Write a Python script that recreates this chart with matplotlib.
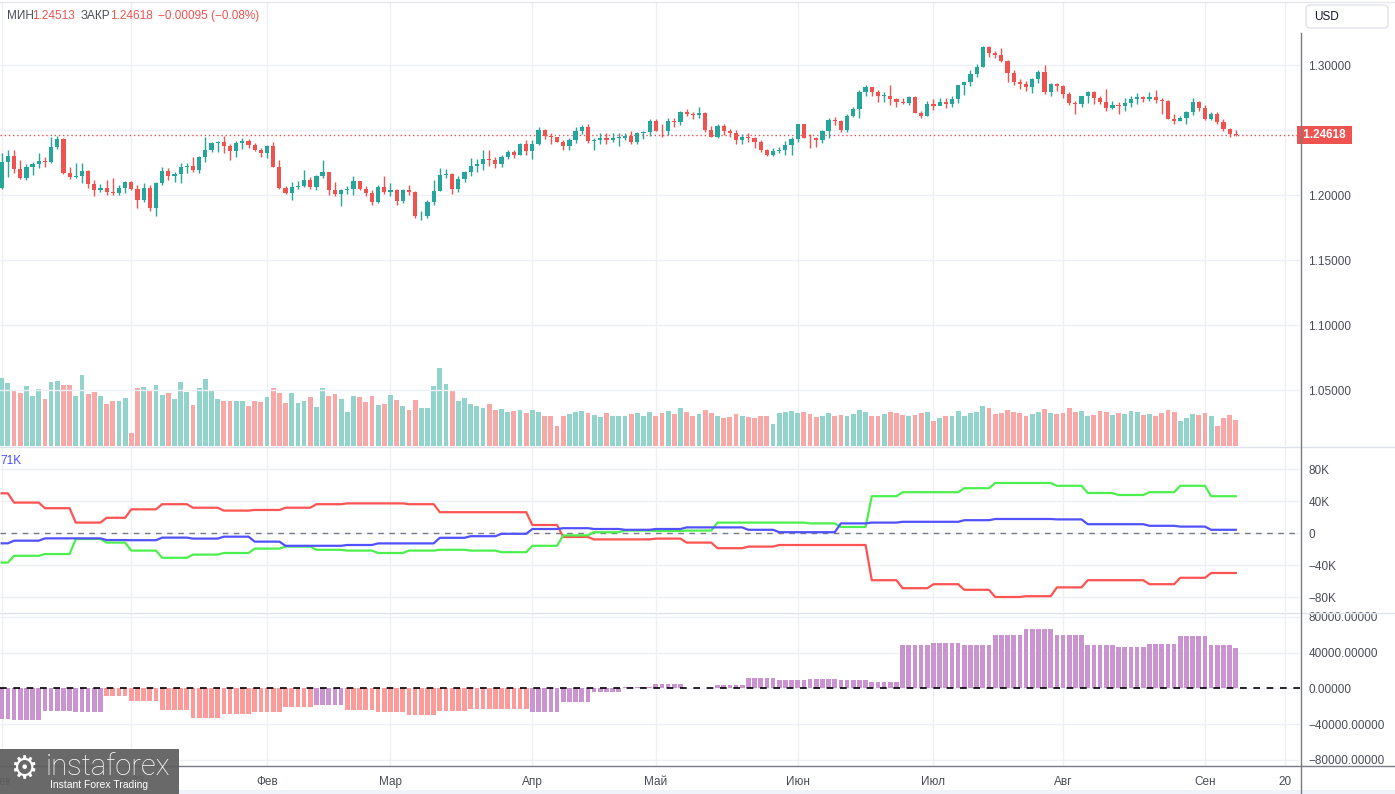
import numpy as np
import matplotlib
matplotlib.use('Agg')
import matplotlib.pyplot as plt
from matplotlib.patches import FancyBboxPatch, Rectangle
from matplotlib.lines import Line2D
import matplotlib.transforms as mtransforms

plt.rcParams['font.family'] = ['Liberation Sans', 'DejaVu Sans']

W, H = 1395, 794

# daily GBP/USD candles, Dec 1 2022 .. Sep 8 2023 (open = previous close)
open0 = 1.2057
closes = [
    1.2256, 1.2300, 1.2197, 1.2133, 1.2213, 1.2238, 1.2262, 1.2257, 1.2367, 1.2431,
    1.2172, 1.2140, 1.2146, 1.2185, 1.2082, 1.2038, 1.2056, 1.2026, 1.2018, 1.2054,
    1.2103, 1.2044, 1.1962, 1.2056, 1.1898, 1.2095, 1.2185, 1.2149, 1.2159, 1.2218,
    1.2223, 1.2192, 1.2295, 1.2346, 1.2403, 1.2405, 1.2380, 1.2341, 1.2403, 1.2418,
    1.2385, 1.2346, 1.2321, 1.2377, 1.2218, 1.2051, 1.2018, 1.2064, 1.2069, 1.2115,
    1.2060, 1.2145, 1.2180, 1.2035, 1.2010, 1.2035, 1.2045, 1.2105, 1.2050, 1.2015,
    1.1945, 1.2065, 1.2020, 1.2035, 1.1955, 1.2040, 1.2020, 1.1835, 1.1840, 1.1945,
    1.2030, 1.2155, 1.2165, 1.2050, 1.2120, 1.2175, 1.2225, 1.2235, 1.2275, 1.2270,
    1.2235, 1.2290, 1.2330, 1.2310, 1.2390, 1.2335, 1.2390, 1.2500, 1.2455, 1.2445,
    1.2410, 1.2380, 1.2420, 1.2490, 1.2525, 1.2415, 1.2420, 1.2435, 1.2420, 1.2440,
    1.2440, 1.2455, 1.2410, 1.2475, 1.2485, 1.2570, 1.2495, 1.2490, 1.2570, 1.2565,
    1.2635, 1.2625, 1.2615, 1.2630, 1.2500, 1.2450, 1.2530, 1.2490, 1.2475, 1.2420,
    1.2445, 1.2440, 1.2410, 1.2345, 1.2310, 1.2340, 1.2345, 1.2385, 1.2430, 1.2545,
    1.2440, 1.2435, 1.2425, 1.2490, 1.2580, 1.2570, 1.2500, 1.2608, 1.2665, 1.2795,
    1.2830, 1.2792, 1.2762, 1.2765, 1.2742, 1.2716, 1.2710, 1.2752, 1.2632, 1.2606,
    1.2697, 1.2684, 1.2714, 1.2702, 1.2741, 1.2843, 1.2868, 1.2933, 1.2988, 1.3140,
    1.3096, 1.3074, 1.3034, 1.2940, 1.2870, 1.2853, 1.2827, 1.2894, 1.2945, 1.2793,
    1.2855, 1.2837, 1.2780, 1.2709, 1.2700, 1.2758, 1.2791, 1.2750, 1.2716, 1.2670,
    1.2696, 1.2684, 1.2706, 1.2735, 1.2753, 1.2740, 1.2752, 1.2730, 1.2720, 1.2588,
    1.2568, 1.2596, 1.2637, 1.2712, 1.2670, 1.2588, 1.2625, 1.2563, 1.2504, 1.2472,
    1.2462]
highs = [
    1.2321, 1.2345, 1.2346, 1.2269, 1.2236, 1.2256, 1.2321, 1.2295, 1.2449, 1.2457,
    1.2436, 1.2218, 1.2244, 1.2244, 1.2192, 1.2115, 1.2082, 1.2115, 1.2128, 1.2077,
    1.2108, 1.2108, 1.2077, 1.2090, 1.2077, 1.2103, 1.2218, 1.2205, 1.2180, 1.2249,
    1.2249, 1.2290, 1.2300, 1.2444, 1.2410, 1.2415, 1.2454, 1.2392, 1.2415, 1.2436,
    1.2428, 1.2403, 1.2360, 1.2385, 1.2410, 1.2269, 1.2070, 1.2103, 1.2110, 1.2190,
    1.2140, 1.2155, 1.2270, 1.2180, 1.2100, 1.2050, 1.2070, 1.2145, 1.2110, 1.2070,
    1.2040, 1.2075, 1.2145, 1.2090, 1.2050, 1.2050, 1.2075, 1.2030, 1.1880, 1.1960,
    1.2115, 1.2205, 1.2200, 1.2170, 1.2145, 1.2185, 1.2285, 1.2280, 1.2345, 1.2345,
    1.2290, 1.2305, 1.2345, 1.2345, 1.2400, 1.2425, 1.2420, 1.2525, 1.2510, 1.2480,
    1.2445, 1.2420, 1.2440, 1.2525, 1.2535, 1.2545, 1.2440, 1.2475, 1.2475, 1.2475,
    1.2475, 1.2475, 1.2495, 1.2485, 1.2495, 1.2585, 1.2585, 1.2545, 1.2590, 1.2595,
    1.2645, 1.2665, 1.2640, 1.2680, 1.2640, 1.2530, 1.2545, 1.2545, 1.2505, 1.2500,
    1.2470, 1.2475, 1.2450, 1.2420, 1.2355, 1.2360, 1.2370, 1.2415, 1.2445, 1.2550,
    1.2545, 1.2470, 1.2445, 1.2500, 1.2590, 1.2600, 1.2580, 1.2620, 1.2680, 1.2810,
    1.2850, 1.2830, 1.2805, 1.2790, 1.2846, 1.2750, 1.2745, 1.2765, 1.2760, 1.2650,
    1.2720, 1.2735, 1.2745, 1.2750, 1.2760, 1.2850, 1.2870, 1.2960, 1.3010, 1.3146,
    1.3146, 1.3110, 1.3128, 1.3040, 1.2960, 1.2890, 1.2875, 1.2900, 1.2965, 1.2997,
    1.2865, 1.2865, 1.2850, 1.2790, 1.2725, 1.2765, 1.2800, 1.2800, 1.2765, 1.2818,
    1.2720, 1.2715, 1.2745, 1.2760, 1.2785, 1.2765, 1.2790, 1.2808, 1.2745, 1.2730,
    1.2625, 1.2610, 1.2650, 1.2745, 1.2725, 1.2690, 1.2640, 1.2640, 1.2585, 1.2515,
    1.2500]
lows = [
    1.2050, 1.2141, 1.2167, 1.2121, 1.2115, 1.2154, 1.2210, 1.2218, 1.2250, 1.2351,
    1.2162, 1.2123, 1.2128, 1.2090, 1.2057, 1.1995, 1.2021, 1.2000, 1.2000, 1.2000,
    1.2013, 1.2038, 1.1898, 1.1949, 1.1880, 1.1841, 1.2077, 1.2115, 1.2103, 1.2095,
    1.2167, 1.2180, 1.2172, 1.2256, 1.2333, 1.2333, 1.2321, 1.2269, 1.2290, 1.2351,
    1.2360, 1.2340, 1.2290, 1.2282, 1.2213, 1.2044, 1.2006, 1.1962, 1.2044, 1.2060,
    1.2050, 1.2040, 1.2130, 1.2000, 1.1990, 1.1915, 1.2010, 1.2000, 1.2040, 1.1990,
    1.1925, 1.1935, 1.2010, 1.1990, 1.1920, 1.1940, 1.2000, 1.1820, 1.1805, 1.1825,
    1.1925, 1.2030, 1.2130, 1.2010, 1.2025, 1.2100, 1.2150, 1.2180, 1.2190, 1.2225,
    1.2205, 1.2215, 1.2280, 1.2285, 1.2305, 1.2310, 1.2275, 1.2385, 1.2430, 1.2390,
    1.2405, 1.2345, 1.2350, 1.2400, 1.2470, 1.2400, 1.2345, 1.2390, 1.2390, 1.2410,
    1.2375, 1.2420, 1.2390, 1.2395, 1.2430, 1.2455, 1.2490, 1.2445, 1.2465, 1.2525,
    1.2535, 1.2605, 1.2585, 1.2590, 1.2485, 1.2445, 1.2440, 1.2460, 1.2445, 1.2390,
    1.2390, 1.2410, 1.2365, 1.2330, 1.2300, 1.2300, 1.2320, 1.2310, 1.2310, 1.2410,
    1.2435, 1.2365, 1.2370, 1.2400, 1.2440, 1.2540, 1.2485, 1.2485, 1.2600, 1.2590,
    1.2760, 1.2765, 1.2718, 1.2715, 1.2690, 1.2675, 1.2700, 1.2690, 1.2630, 1.2590,
    1.2610, 1.2655, 1.2690, 1.2670, 1.2675, 1.2710, 1.2770, 1.2835, 1.2910, 1.2985,
    1.3060, 1.3055, 1.3025, 1.2870, 1.2845, 1.2815, 1.2800, 1.2785, 1.2860, 1.2775,
    1.2760, 1.2800, 1.2750, 1.2690, 1.2626, 1.2680, 1.2705, 1.2700, 1.2700, 1.2650,
    1.2660, 1.2626, 1.2650, 1.2675, 1.2700, 1.2715, 1.2725, 1.2710, 1.2626, 1.2585,
    1.2550, 1.2570, 1.2545, 1.2615, 1.2645, 1.2575, 1.2580, 1.2545, 1.2495, 1.2446,
    1.2451]
volumes = [
    68, 63, 55, 53, 60, 50, 57, 47, 64, 65, 61, 61, 50, 71, 52, 54, 50, 42, 45, 45,
    48, 13, 58, 59, 55, 61, 51, 53, 47, 64, 54, 41, 58, 67, 55, 47, 45, 45, 45, 45,
    40, 45, 44, 49, 58, 53, 43, 53, 43, 45, 49, 39, 58, 50, 52, 47, 34, 50, 49, 44,
    50, 41, 42, 51, 46, 40, 36, 46, 38, 38, 60, 78, 62,
    55, 45, 48, 42, 40, 38, 42, 36, 37, 34, 35, 36, 33,
    36, 34, 30, 30, 20, 30, 32, 34, 35, 33, 31, 29, 33, 30, 30, 30, 32, 33, 30, 34,
    30, 33, 35, 32, 38, 34, 30, 32, 36, 33, 30, 28, 29, 32, 30, 29, 28, 30, 30, 22,
    33, 34, 35,
    33, 34, 32, 29, 30, 33, 30, 31, 30, 32, 36, 34, 30, 30, 32, 34, 33, 31, 30, 31,
    33, 34,
    25, 28, 30, 30, 35, 30, 33, 34, 40, 38, 32, 33, 36, 34, 33, 30, 32, 34, 37, 33, 32,
    33, 38, 34, 35, 30, 31, 35, 34, 31, 33, 32, 35, 34, 31, 32, 30, 33, 36, 34, 25,
    28, 32, 31, 33, 30, 20, 28, 31, 26]

# weekly COT-style positions (thousands); first week has 2 bars, Christmas week 4
week_len = [2, 5, 5, 5, 4] + [5] * 36
red_w = [49.6, 38, 31, 13, 19, 29.6, 36, 31.6, 28, 28.8, 31.6, 36, 37, 37, 36, 26, 26,
         26, 10, -5, -8, -8, -7, -12, -19, -17, -15, -15, -15, -59, -69, -64, -71, -80,
         -79, -68, -59, -59, -64, -56, -50]
green_w = [-37, -28.5, -26.3, -7.5, -12, -22, -31, -27, -25, -19.5, -17, -21, -22, -25,
           -22, -21, -22, -24, -16, -3, 1, 3, 2.5, 3, 13, 13, 13, 12, 7.5, 46, 51, 51, 56,
           62.5, 62.5, 59, 50, 47.5, 51, 59, 46]
blue_w = [-12.9, -9.6, -6.7, -6.7, -8.8, -9, -5.8, -7, -4.6, -10.8, -16, -16, -15, -13,
          -13, -6, -4, -1, 5, 6, 5, 4, 5, 7, 7, 4, 1, 1, 12, 13, 14, 14, 16, 17.5, 17.5,
          17, 11, 11, 9, 8, 4]
hist_w = [-34.0, -35.4, -25.4, -26.5, -8.6, -13.8, -24.2, -32.8, -28.3, -26.1, -20.5,
          -18.6, -24.2, -26.5, -29.8, -25.0, -22.8, -23.5, -26.1, -14.9, -3.7, 1.1, 4.8,
          0.3, 3.7, 11.6, 9.3, 10.4, 9.3, 7.1, 48.5, 50.7, 48.5, 59.6, 66.3, 59.6, 48.5,
          46.3, 49.6, 58.5, 48.5]
hist_kind = ['p'] * 4 + ['s'] * 7 + ['p'] + ['s'] * 6 + ['p'] * 23
hist_last = 45.2

tick_pos = [0, 21, 43, 63, 86, 106, 129, 151, 172, 195, 208]
tick_lab = ['Дек', '2023', 'Фев', 'Мар', 'Апр', 'Май', 'Июн', 'Июл', 'Авг', 'Сен', '20']
price_ticks = [1.05, 1.10, 1.15, 1.20, 1.25, 1.30]
cot_ticks = [80, 40, 0, -40, -80]
last_price = 1.24618

TEAL, RED = '#26a69a', '#ef5350'
VTEAL, VRED = '#92d3cc', '#f8a9a7'
GRID = '#eef0f5'
LBL = '#4a4d57'

closes = np.array(closes)
opens = np.concatenate([[open0], closes[:-1]])
idx = np.arange(len(closes))
up = closes >= opens

def fx(x):
    return x / W

def fy(y):
    return 1 - y / H

fig = plt.figure(figsize=(W / 100, H / 100), dpi=100)
fig.patch.set_facecolor('white')

xlim = (-0.28, 210.4)
ax_v = fig.add_axes([0, fy(446), fx(1300), (446 - 3) / H])
ax_p = fig.add_axes([0, fy(446), fx(1300), (446 - 3) / H], facecolor='none')
ax_c = fig.add_axes([0, fy(612), fx(1300), (612 - 447) / H])
ax_h = fig.add_axes([0, fy(766), fx(1300), (766 - 614) / H])

for a in (ax_v, ax_p, ax_c, ax_h):
    a.set_xlim(*xlim)
    for s in a.spines.values():
        s.set_visible(False)
    a.tick_params(axis='x', length=0, labelbottom=False)
for a in (ax_v, ax_c, ax_h):
    for t in tick_pos:
        a.axvline(t, color=GRID, lw=1, zorder=0)

# volume
ax_v.set_ylim(0, 443)
ax_v.set_yticks([])
ax_v.bar(idx, volumes, width=0.78, color=np.where(up, VTEAL, VRED), zorder=1)

# price
ax_p.set_ylim(1.30 - 381 / 1300, 1.30 + 62 / 1300)
for p in price_ticks:
    ax_p.axhline(p, color=GRID, lw=1, zorder=0)
cols = np.where(up, TEAL, RED)
ax_p.vlines(idx, lows, highs, colors=cols, lw=1, zorder=2)
body = np.maximum(np.abs(closes - opens), 0.0004)
ax_p.bar(idx, body, bottom=np.minimum(opens, closes), width=0.68, color=cols, zorder=3)
ax_p.axhline(last_price, color=RED, lw=1, linestyle=(0, (1, 2)), zorder=1)
ax_p.yaxis.tick_right()
ax_p.set_yticks(price_ticks)
# the 1.25 label sits under the last-price box
ax_p.set_yticklabels(['' if p == 1.25 else '%.5f' % p for p in price_ticks])
ax_p.tick_params(axis='y', length=0, pad=6, labelsize=8.5, labelcolor=LBL)
tr = mtransforms.blended_transform_factory(ax_p.transAxes, ax_p.transData)
ax_p.text(1.0, last_price, ' %.5f ' % last_price, transform=tr, ha='left', va='center',
          color='white', fontsize=8.5, fontweight='bold', zorder=10, clip_on=False,
          bbox=dict(boxstyle='square,pad=0.25', facecolor=RED, edgecolor='none'))

# COT lines
red_d = np.repeat(red_w, week_len)
green_d = np.repeat(green_w, week_len)
blue_d = np.repeat(blue_w, week_len)
ax_c.set_ylim(-98.75, 107.5)
for v in cot_ticks:
    ax_c.axhline(v, color=GRID, lw=1, zorder=0)
ax_c.axhline(0, color='#787b86', lw=1, linestyle=(0, (4, 4)), zorder=1)
ax_c.plot(idx, red_d, color='#ff5252', lw=1.6, zorder=3)
ax_c.plot(idx, green_d, color='#4cf04c', lw=1.6, zorder=3)
ax_c.plot(idx, blue_d, color='#5151ff', lw=1.6, zorder=4)
ax_c.yaxis.tick_right()
ax_c.set_yticks(cot_ticks)
ax_c.set_yticklabels(['%dK' % v if v > 0 else ('0' if v == 0 else '\u2212%dK' % -v)
                      for v in cot_ticks])
ax_c.tick_params(axis='y', length=0, pad=6, labelsize=8.5, labelcolor=LBL)

# histogram
hist_d = np.repeat(hist_w, week_len)
hist_d[-1] = hist_last
kind_d = np.repeat(hist_kind, week_len)
ax_h.set_ylim(-86.9, 83.1)
for v in cot_ticks:
    ax_h.axhline(v, color=GRID, lw=1, zorder=0)
ax_h.bar(idx, hist_d, width=0.76, color=np.where(kind_d == 'p', '#c994cf', '#fd9b9b'),
         zorder=2)
ax_h.axhline(0, color='black', lw=1.2, linestyle=(0, (4, 4)), zorder=3)
ax_h.yaxis.tick_right()
ax_h.set_yticks(cot_ticks)
ax_h.set_yticklabels([('%.5f' % (v * 1000)).replace('-', '\u2212') for v in cot_ticks])
ax_h.tick_params(axis='y', length=0, pad=6, labelsize=8.5, labelcolor=LBL)
ax_h.set_xticks(tick_pos)
ax_h.set_xticklabels(tick_lab)
ax_h.tick_params(axis='x', length=0, labelbottom=True, pad=7, labelsize=8.5,
                 labelcolor=LBL)

# frame lines
fig.add_artist(Line2D([fx(0), fx(W)], [fy(446.5), fy(446.5)], color='#e0e3eb', lw=1))
fig.add_artist(Line2D([fx(0), fx(W)], [fy(613), fy(613)], color='#e0e3eb', lw=1))
fig.add_artist(Line2D([fx(0), fx(W)], [fy(766), fy(766)], color='#787b86', lw=1))
fig.add_artist(Line2D([fx(1300.5), fx(1300.5)], [fy(33), fy(794)], color='#787b86', lw=1))
fig.add_artist(Line2D([fx(0), fx(W)], [fy(1.5), fy(1.5)], color='#e6e8ee', lw=1))
fig.add_artist(Rectangle((0, 0), 1, fy(790), transform=fig.transFigure,
                         facecolor='#f0f3fa', edgecolor='none'))

# header texts
hdr = [(7, 'МИН', LBL), (32, '1.24513', RED), (81, 'ЗАКР', LBL), (110, '1.24618', RED),
       (158, '\u22120.00095 (\u22120.08%)', RED)]
for x, s, c in hdr:
    fig.text(fx(x), fy(16), s, color=c, fontsize=8.5, ha='left', va='center')
fig.text(fx(0), fy(461), '71K', color='#4a4aff', fontsize=8.5, ha='left', va='center')

fig.add_artist(FancyBboxPatch((fx(1306), fy(28)), fx(82), 23 / H,
                              boxstyle='round,pad=0,rounding_size=0.004',
                              transform=fig.transFigure, facecolor='white',
                              edgecolor='#e0e3eb', lw=1))
fig.text(fx(1314), fy(17), 'USD', color='#131722', fontsize=8.5, ha='left', va='center')

# logo (drawn over the first axis labels, like the watermark in the source)
fig.add_artist(Rectangle((0, 0), fx(179), 45 / H, transform=fig.transFigure,
                         facecolor='#5e5e5e', edgecolor='none', alpha=0.93, zorder=20))
fig.text(fx(24), fy(770), '\u2699', color='white', fontsize=22, ha='center', va='center',
         family='DejaVu Sans', zorder=21)
fig.text(fx(46), fy(767), 'instaforex', color='white', fontsize=21, ha='left',
         va='center', family='Roboto', fontweight='light', zorder=21)
fig.text(fx(50), fy(785), 'Instant Forex Trading', color='white', fontsize=7.5,
         ha='left', va='center', zorder=21)

fig.savefig('out.png', dpi=100)
